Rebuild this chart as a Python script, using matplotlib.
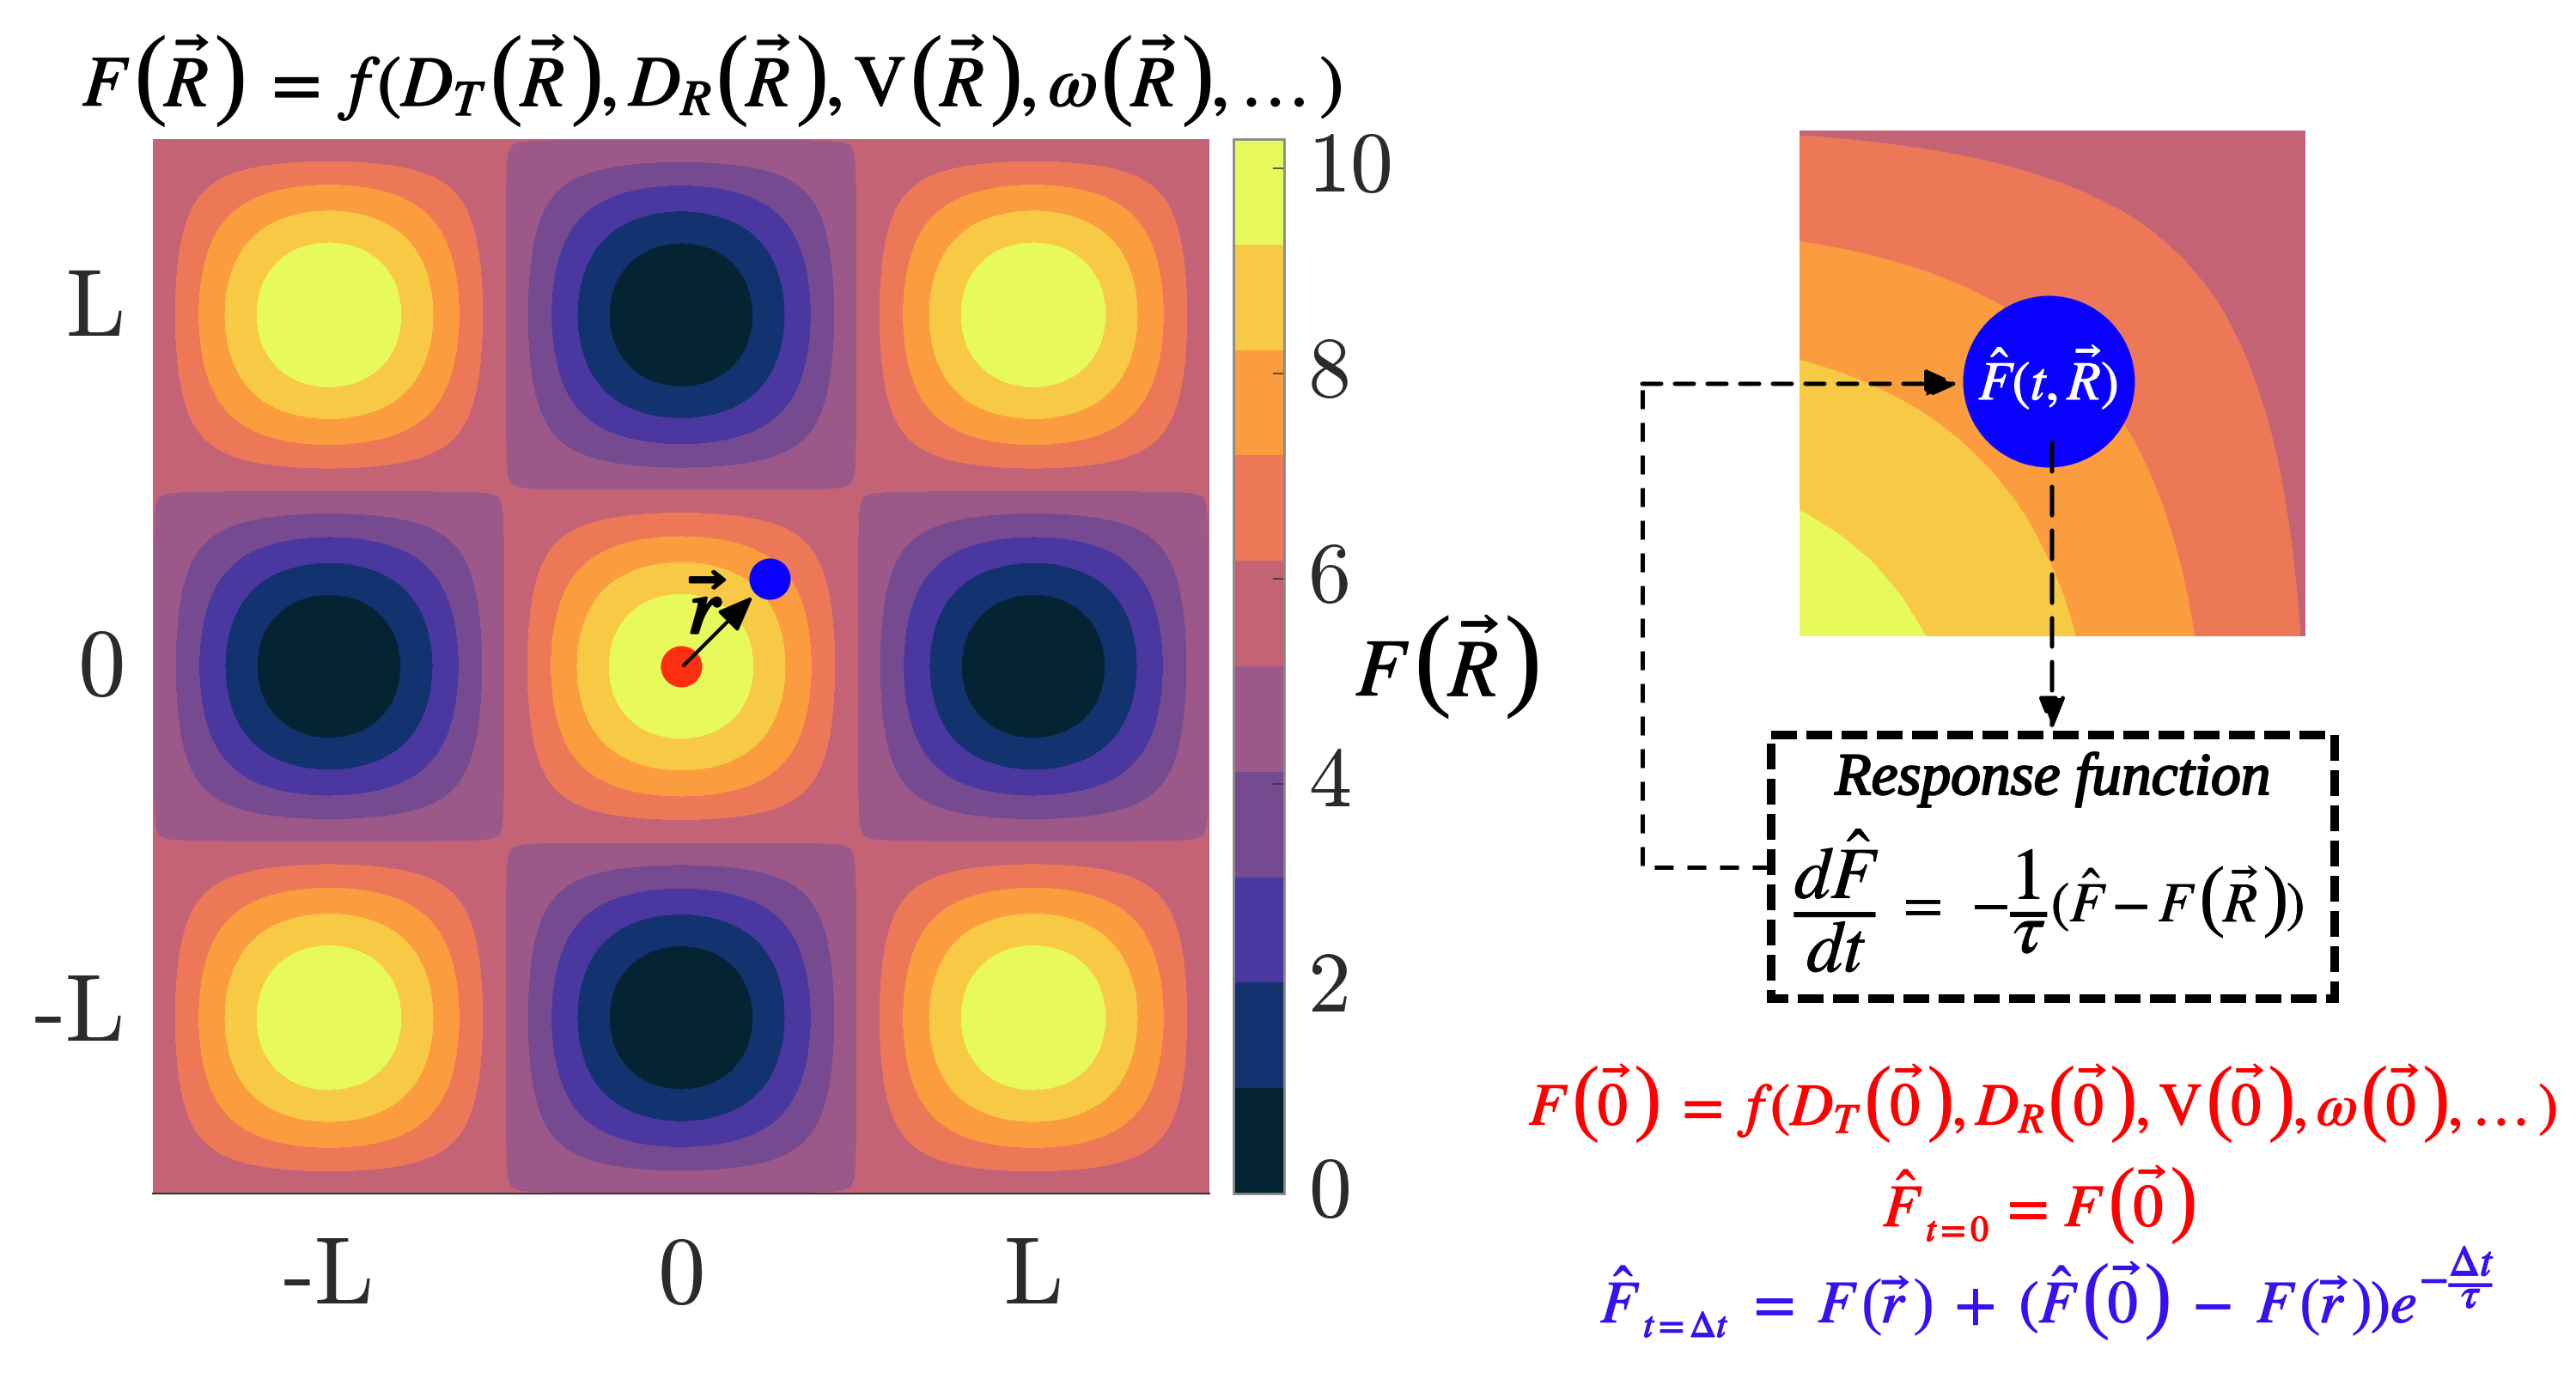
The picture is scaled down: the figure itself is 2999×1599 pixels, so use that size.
import numpy as np
import matplotlib
matplotlib.use("Agg")
import matplotlib.pyplot as plt
import matplotlib.patheffects as pe
from matplotlib.cm import ScalarMappable
from matplotlib.colors import BoundaryNorm, ListedColormap
from matplotlib.patches import Rectangle
from matplotlib.transforms import Affine2D

W, H = 2999, 1599

# field along the midline, centre of a tile out to its edge (x = 0 .. L/2)
quarter_profile = [1.000, 0.998, 0.991, 0.981, 0.966, 0.947, 0.924, 0.897, 0.866,
                   0.832, 0.793, 0.752, 0.707, 0.659, 0.609, 0.556, 0.500, 0.442,
                   0.383, 0.321, 0.259, 0.195, 0.131, 0.065, 0.000]
field_mid = 5.0
field_amp = 5.0

contour_levels = [0, 1, 2, 3, 4, 4.985, 6, 7, 8, 9, 10]
bar_levels = [0, 1, 2, 3, 4, 5, 6, 7, 8, 9, 10]
band_colors = ["#042333", "#133270", "#4B37A0", "#764A90", "#9C5889",
               "#C46376", "#EC7858", "#FB9C3E", "#F8C944", "#E8FA5B"]

x_tick_pos = [-1, 0, 1]
x_tick_labels = ["-L", "0", "L"]
y_tick_pos = [-0.971, 0.012, 1.035]
y_tick_labels = ["-L", "0", "L"]
bar_tick_pos = [0, 1.944, 3.888, 5.832, 7.776, 9.72]
bar_tick_labels = ["0", "2", "4", "6", "8", "10"]

origin_point = (0.0, 0.0)
probe_point = (0.25, 0.25)
inset_range = (0.0987, 0.436)
inset_probe = (0.265, 0.269)

VEC_R = r"$\vec{R}$"
VEC_0 = r"$\vec{0}$"
BIG_PAREN = 1.42

plt.rcParams["mathtext.fontset"] = "stix"
plt.rcParams["font.family"] = ["Liberation Serif", "DejaVu Serif"]


def px_axes(fig, left, top, right, bottom):
    """Axes placed by its pixel edges, y counted from the top of the picture."""
    return fig.add_axes([left / W, 1 - bottom / H, (right - left) / W, (bottom - top) / H])


def build_field():
    q = np.array(quarter_profile)
    right = np.r_[q, -q[-2::-1], -q[1:]]
    profile = np.r_[right[:0:-1], right]
    coords = np.linspace(-1.5, 1.5, len(profile))
    return coords, field_mid + field_amp * np.outer(profile, profile)


def draw_row(axes, x, baseline, tokens, size, color, ha="left", stroke=1.0):
    """Lay out pieces of an equation side by side; bare ( and ) come out tall."""
    renderer = axes.figure.canvas.get_renderer()
    placed = []
    for token in tokens:
        if isinstance(token, tuple):
            text, scale, lift = token
        elif token in ("(", ")"):
            text, scale, lift = token, BIG_PAREN, 0
        else:
            text, scale, lift = token, 1.0, 0
        t = axes.text(0, baseline - lift, text, fontsize=size * scale, color=color,
                      ha="left", va="baseline")
        is_paren = text in ("(", ")")
        if not is_paren:
            t.set_path_effects([pe.withStroke(linewidth=stroke, foreground=color)])
        width = t.get_window_extent(renderer).width
        if is_paren:
            width *= 0.92
        else:
            width += size * 0.06
        placed.append((t, width))
    total = sum(w for _, w in placed)
    cur = x - total / 2 if ha == "center" else x
    for t, w in placed:
        t.set_x(cur)
        cur += w


coords, field = build_field()

fig = plt.figure(figsize=(W / 100, H / 100), dpi=100, facecolor="white")

# main map
ax = px_axes(fig, 178, 162, 1408, 1390)
ax.contourf(coords, coords, field, levels=contour_levels, colors=band_colors)
ax.set_xlim(-1.5, 1.5)
ax.set_ylim(-1.5, 1.5)
ax.set_xticks(x_tick_pos, x_tick_labels)
ax.set_yticks(y_tick_pos, y_tick_labels)
ax.tick_params(axis="both", length=0, labelsize=80, labelcolor="#2b2b2b", labelfontfamily="cmr10")
ax.tick_params(axis="x", pad=36)
ax.tick_params(axis="y", pad=23)
for name in ["top", "left", "right"]:
    ax.spines[name].set_visible(False)
ax.spines["bottom"].set_color("#333333")
ax.spines["bottom"].set_linewidth(1.5)
ax.scatter(*origin_point, s=1200, color="#FC3011", linewidths=0, zorder=3)
ax.scatter(*probe_point, s=1200, color="#0A00FF", linewidths=0, zorder=3)

# colour bar
cax = px_axes(fig, 1436, 162, 1495, 1390)
cmap = ListedColormap(band_colors)
norm = BoundaryNorm(bar_levels, cmap.N)
cbar = fig.colorbar(ScalarMappable(norm=norm, cmap=cmap), cax=cax, spacing="proportional")
cbar.outline.set_edgecolor("#888888")
cbar.outline.set_linewidth(2)
cbar.set_ticks(bar_tick_pos, labels=bar_tick_labels)
cbar.minorticks_off()
cax.tick_params(axis="y", direction="in", length=9.5, width=1.1, color="#333333", pad=20,
                labelsize=72, labelcolor="#2b2b2b", labelfontfamily="cmr10")
for lab in cax.get_yticklabels():
    lab.set_transform(lab.get_transform() + Affine2D().translate(0, 8))

# zoomed window around the probe
inset = px_axes(fig, 2095, 152, 2684, 741)
inset.contourf(coords, coords, field, levels=contour_levels, colors=band_colors)
inset.set_xlim(*inset_range)
inset.set_ylim(*inset_range)
inset.axis("off")
inset.scatter(*inset_probe, s=20736, color="#0A00FF", linewidths=0, zorder=3, clip_on=False)

# overlay in picture pixels for the equations and connectors
over = fig.add_axes([0, 0, 1, 1], facecolor="none")
over.set_xlim(0, W)
over.set_ylim(H, 0)
over.axis("off")

draw_row(over, 96, 123,
         ["$F$", "(", VEC_R, ")", r"$\ =\ f\,(D_T$", "(", VEC_R, ")", "$,D_R$", "(", VEC_R, ")",
          r"$,\mathrm{V}$", "(", VEC_R, ")", r"$,\omega$", "(", VEC_R, ")", r"$,\ldots\,)$"],
         60, "black", stroke=1.2)
draw_row(over, 1685, 810, ["$F$", "(", VEC_R, ")"], 68, "black", ha="center", stroke=1.2)
over.text(823, 737, r"$\vec{r}$", fontsize=66, color="black", ha="center", va="baseline",
          path_effects=[pe.withStroke(linewidth=2.5, foreground="black")])
over.annotate("", xy=(877, 694), xytext=(796, 775),
              arrowprops=dict(arrowstyle="-|>,head_length=0.5,head_width=0.2", color="black",
                              lw=3, mutation_scale=50, shrinkA=0, shrinkB=0))
draw_row(over, 2386, 465, [r"$\hat{F}(t,\vec{R})$"], 46, "white", ha="center", stroke=0.8)

# dashed feedback path
dash_thin = (0, (4.4, 3.2))
over.plot([2062, 1912, 1912], [1010, 1010, 447], color="black", lw=3.6, linestyle=dash_thin)
over.annotate("", xy=(2280, 447), xytext=(1912, 447),
              arrowprops=dict(arrowstyle="-|>,head_length=0.45,head_width=0.2", color="black",
                              lw=3.6, linestyle=dash_thin, mutation_scale=50, shrinkA=0, shrinkB=0))
over.annotate("", xy=(2389, 851), xytext=(2389, 516),
              arrowprops=dict(arrowstyle="-|>,head_length=0.45,head_width=0.18", color="black",
                              lw=3.6, linestyle=(0, (6.6, 3.6)), mutation_scale=50, shrinkA=0, shrinkB=0))

over.add_patch(Rectangle((2062, 856), 656, 307, fill=False, edgecolor="black", lw=7.2,
                         linestyle=(0, (3, 1.1)), joinstyle="miter"))
over.text(2390, 925, "Response function", fontsize=50, style="italic", color="black",
          ha="center", va="baseline",
          path_effects=[pe.withStroke(linewidth=1.6, foreground="black")])
draw_row(over, 2387, 1073,
         [(r"$\dfrac{d\hat{F}}{dt}$", 1.3, -6), r"$\ =\ -$", (r"$\dfrac{1}{\tau}$", 1.3, -6),
          r"$(\hat{F}-F$", "(", VEC_R, ")", "$)$"],
         47, "black", ha="center", stroke=0.6)

# update rule under the box
red = "#FF0000"
blue = "#3A10F0"
draw_row(over, 2380, 1310,
         ["$F$", "(", VEC_0, ")", r"$\ =\ f\,(D_T$", "(", VEC_0, ")", "$,D_R$", "(", VEC_0, ")",
          r"$,\mathrm{V}$", "(", VEC_0, ")", r"$,\omega$", "(", VEC_0, ")", r"$,\ldots\,)$"],
         50, red, ha="center")
draw_row(over, 2374, 1428,
         [r"$\hat{F}$", (r"$\mathit{t=0}$", 0.6, -17), r"$\,=\,F$", "(", VEC_0, ")"],
         50, red, ha="center")
draw_row(over, 2385, 1540,
         [r"$\hat{F}$", (r"$\mathit{t=\Delta t}$", 0.62, -17), r"$\ =\ F$", ("(", 1.08, 0), r"$\vec{r}$",
          (")", 1.08, 0), r"$\ +\ (\hat{F}$", "(", VEC_0, ")", r"$\ -\ F$", ("(", 1.08, 0), r"$\vec{r}$",
          (")", 1.08, 0), "$)e$", (r"$-\dfrac{\Delta t}{\tau}$", 0.72, 35)],
         50, blue, ha="center")

fig.savefig("out.png", dpi=100, facecolor="white")
